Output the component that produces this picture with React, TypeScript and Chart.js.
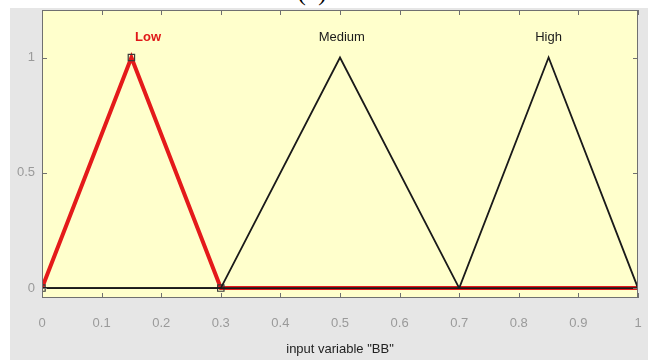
import React, { useEffect, useRef } from "react";
import { Chart, registerables } from "chart.js";

Chart.register(...registerables);

// Membership functions of input variable "BB"
const lowX = [0, 0.15, 0.3, 1];
const lowY = [0, 1, 0, 0];
const mediumX = [0, 0.3, 0.5, 0.7, 1];
const mediumY = [0, 0, 1, 0, 0];
const highX = [0, 0.7, 0.85, 1];
const highY = [0, 0, 1, 0];

const mfNames = ["Low", "Medium", "High"];
const mfLabelX = [0.178, 0.503, 0.85];
const mfLabelY = [1.088, 1.086, 1.086];

const xTicks = [0, 0.1, 0.2, 0.3, 0.4, 0.5, 0.6, 0.7, 0.8, 0.9, 1];
const yTicks = [0, 0.5, 1];
const xTitle = 'input variable "BB"';

const toPts = (xs: number[], ys: number[]) => xs.map((x, i) => ({ x, y: ys[i] }));

const FONT = "'Liberation Sans', Arial, sans-serif";

export default function App() {
  const ref = useRef<HTMLCanvasElement | null>(null);

  useEffect(() => {
    document.body.style.margin = "0";
    if (!ref.current) return;

    const framePlugin = {
      id: "frame",
      beforeDatasetsDraw(chart: any) {
        const { ctx, chartArea: a } = chart;
        ctx.save();
        ctx.fillStyle = "#ffffcc";
        ctx.fillRect(a.left, a.top, a.right - a.left, a.bottom - a.top);
        ctx.restore();
      },
      afterDatasetsDraw(chart: any) {
        const { ctx, chartArea: a, scales } = chart;
        ctx.save();
        ctx.strokeStyle = "#707070";
        ctx.lineWidth = 1;
        ctx.strokeRect(a.left + 0.5, a.top + 0.5, a.right - a.left - 1, a.bottom - a.top - 1);
        ctx.beginPath();
        xTicks.forEach((t) => {
          const px = Math.round(scales.x.getPixelForValue(t)) + 0.5;
          ctx.moveTo(px, a.bottom);
          ctx.lineTo(px, a.bottom - 5);
          ctx.moveTo(px, a.top);
          ctx.lineTo(px, a.top + 5);
        });
        yTicks.forEach((t) => {
          const py = Math.round(scales.y.getPixelForValue(t)) + 0.5;
          ctx.moveTo(a.left, py);
          ctx.lineTo(a.left + 5, py);
          ctx.moveTo(a.right, py);
          ctx.lineTo(a.right - 5, py);
        });
        ctx.stroke();
        // MF labels
        ctx.textAlign = "center";
        ctx.textBaseline = "middle";
        mfNames.forEach((n, i) => {
          const px = scales.x.getPixelForValue(mfLabelX[i]);
          const py = scales.y.getPixelForValue(mfLabelY[i]);
          if (i === 0) {
            ctx.fillStyle = "#e01818";
            ctx.font = `bold 13px ${FONT}`;
          } else {
            ctx.fillStyle = "#1a1a1a";
            ctx.font = `13px ${FONT}`;
          }
          ctx.fillText(n, px, py);
        });
        ctx.restore();
      },
    };

    const chart = new Chart(ref.current, {
      type: "scatter",
      data: {
        datasets: [
          {
            label: "Medium",
            data: toPts(mediumX, mediumY),
            showLine: true,
            borderColor: "#1a1a1a",
            borderWidth: 1.8,
            pointRadius: 0,
            order: 1,
          },
          {
            label: "High",
            data: toPts(highX, highY),
            showLine: true,
            borderColor: "#1a1a1a",
            borderWidth: 1.8,
            pointRadius: 0,
            order: 1,
          },
          {
            label: "Low",
            data: toPts(lowX, lowY),
            showLine: true,
            borderColor: "#e41a1a",
            borderWidth: 4,
            pointStyle: "rect",
            pointRadius: [4.5, 4.5, 4.5, 0],
            pointBorderColor: "#3a3a3a",
            pointBackgroundColor: "rgba(0,0,0,0)",
            pointBorderWidth: 1.2,
            order: 2,
          },
        ],
      },
      options: {
        animation: false,
        responsive: false,
        events: [],
        layout: { padding: { left: 0, right: 18, top: 10, bottom: 0 } },
        plugins: { legend: { display: false }, tooltip: { enabled: false } },
        scales: {
          x: {
            type: "linear",
            min: 0,
            max: 1,
            afterBuildTicks: (s: any) => {
              s.ticks = xTicks.map((v) => ({ value: v }));
            },
            afterFit: (s: any) => {
              s.height = 62;
              s.paddingLeft = 0;
              s.paddingRight = 0;
            },
            grid: { display: false, drawTicks: false },
            border: { display: false },
            ticks: {
              padding: 18,
              color: "#9a9a9a",
              font: { family: FONT, size: 13 },
              callback: (v: any) => String(Math.round(Number(v) * 10) / 10),
            },
            title: {
              display: true,
              text: xTitle,
              color: "#222",
              font: { family: FONT, size: 13 },
              padding: { top: 0, bottom: 3 },
            },
          },
          y: {
            type: "linear",
            min: -0.043,
            max: 1.206,
            afterBuildTicks: (s: any) => {
              s.ticks = yTicks.map((v) => ({ value: v }));
            },
            afterFit: (s: any) => {
              s.width = 42;
              s.paddingTop = 0;
              s.paddingBottom = 0;
            },
            grid: { display: false, drawTicks: false },
            border: { display: false },
            ticks: {
              padding: 7,
              color: "#9a9a9a",
              font: { family: FONT, size: 13 },
              callback: (v: any) => String(v),
            },
          },
        },
      },
      plugins: [framePlugin],
    } as any);

    return () => chart.destroy();
  }, []);

  return (
    <div style={{ position: "relative", width: 656, height: 360, background: "#ffffff", overflow: "hidden" }}>
      <div style={{ position: "absolute", left: 10, top: 8, width: 638, height: 352, background: "#e6e6e6" }} />
      <div
        style={{
          position: "absolute",
          left: 289,
          top: -20,
          width: 46,
          textAlign: "center",
          fontFamily: "'Liberation Serif', 'Times New Roman', serif",
          fontSize: 25,
          lineHeight: "24px",
          color: "#000",
        }}
      >
        (d)
      </div>
      <canvas ref={ref} width={656} height={360} style={{ position: "absolute", left: 0, top: 0 }} />
    </div>
  );
}
